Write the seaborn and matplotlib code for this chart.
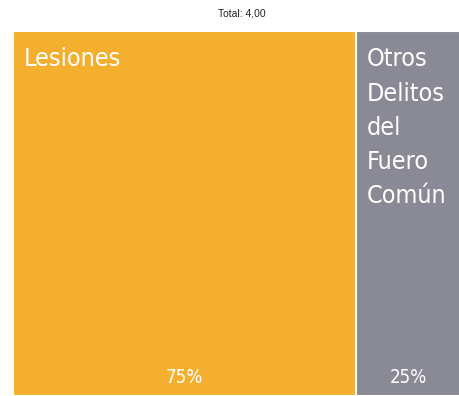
import matplotlib
matplotlib.use("Agg")
import matplotlib.pyplot as plt
import seaborn as sns
import numpy as np

categories = ["Lesiones", "Otros\nDelitos\ndel\nFuero\nComún"]
values = [3.0, 1.0]
colors = ["#F4AF2F", "#8A8A96"]
title = "Total: 4,00"

sns.set_style("white")
plt.rcParams['font.family'] = ['DejaVu Sans']

fig = plt.figure(figsize=(4.6, 3.96), dpi=100)
ax = fig.add_axes([13/460, 0, 447/460, 365/396])

total = sum(values)
lefts = np.concatenate([[0], np.cumsum(values)[:-1]])
xmax = 3.91
ax.bar(lefts, [1]*len(values), width=values, align='edge', color=colors,
       edgecolor='white', linewidth=1.5)
ax.set_xlim(0, xmax)
ax.set_ylim(0, 1)
ax.invert_yaxis()
ax.axis('off')

for left, v, cat in zip(lefts, values, categories):
    right = min(left + v, xmax)
    ax.text(left + 0.095, 0.045, cat, ha='left', va='top', color='white',
            fontsize=18, linespacing=1.54, fontstretch='condensed')
    ax.text((left + right) / 2, 0.95, f"{v/total*100:.0f}%", ha='center', va='center',
            color='white', fontsize=13.5, fontstretch='condensed')

fig.text(242/460, 1 - 14/396, title, ha='center', va='center', fontsize=7.5,
         color='#222222', family='Liberation Sans')

fig.savefig("out.png", dpi=100)
